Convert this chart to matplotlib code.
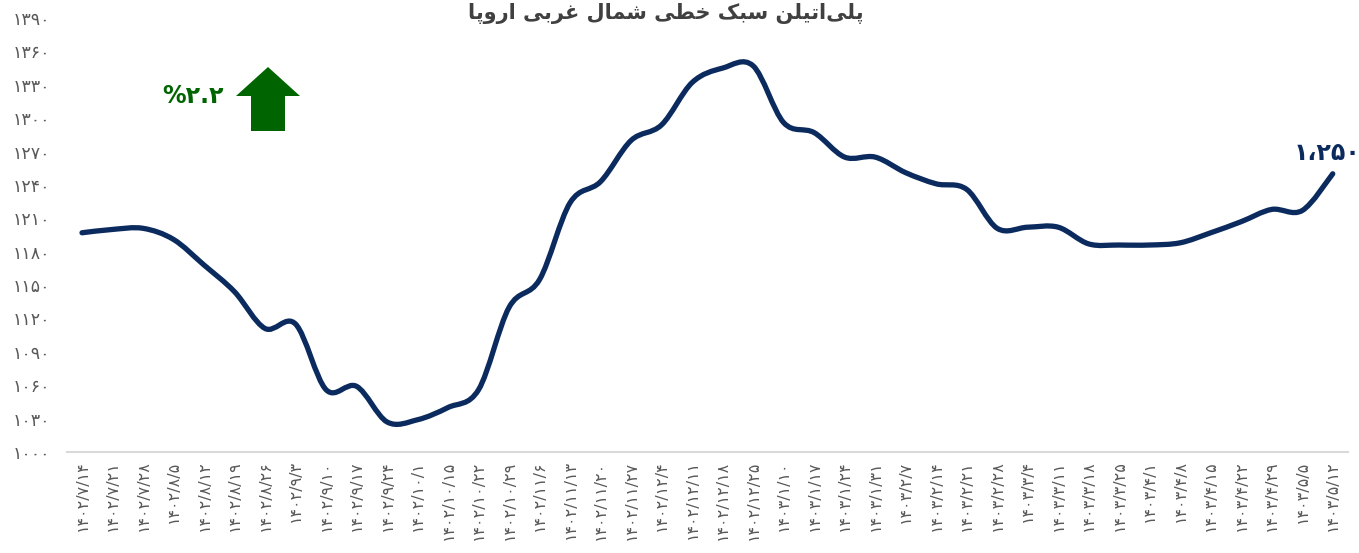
import matplotlib
matplotlib.use("Agg")
import matplotlib.pyplot as plt
from matplotlib.path import Path
from matplotlib.patches import PathPatch, FancyArrow
import numpy as np

# ---------------- data ----------------
dates = [
    "1402/7/14", "1402/7/21", "1402/7/28", "1402/8/5", "1402/8/12", "1402/8/19",
    "1402/8/26", "1402/9/3", "1402/9/10", "1402/9/17", "1402/9/24", "1402/10/1",
    "1402/10/15", "1402/10/22", "1402/10/29", "1402/11/6", "1402/11/13", "1402/11/20",
    "1402/11/27", "1402/12/4", "1402/12/11", "1402/12/18", "1402/12/25", "1403/1/10",
    "1403/1/17", "1403/1/24", "1403/1/31", "1403/2/7", "1403/2/14", "1403/2/21",
    "1403/2/28", "1403/3/4", "1403/3/11", "1403/3/18", "1403/3/25", "1403/4/1",
    "1403/4/8", "1403/4/15", "1403/4/22", "1403/4/29", "1403/5/5", "1403/5/12",
]
prices = [
    1197, 1200, 1201, 1191, 1168, 1144,
    1111, 1115, 1056, 1059, 1027, 1029,
    1040, 1056, 1130, 1155, 1224, 1243,
    1280, 1294, 1332, 1345, 1347, 1296,
    1287, 1265, 1265, 1251, 1241, 1236,
    1201, 1202, 1202, 1187, 1186, 1186,
    1188, 1197, 1207, 1218, 1217, 1250,
]
y_ticks = list(range(1000, 1391, 30))
title_text = "پلی\u200cاتیلن سبک خطی شمال غربی اروپا"
change_text = "%2.2"
last_label = "1,250"

# ---------------- helpers ----------------
FA_DIGITS = str.maketrans("0123456789,", "۰۱۲۳۴۵۶۷۸۹،")

def fa(s):
    return s.translate(FA_DIGITS)

# presentation forms: iso, fin, ini, med
FORMS = {
    "ا": ("\uFE8D", "\uFE8E", None, None),
    "ب": ("\uFE8F", "\uFE90", "\uFE91", "\uFE92"),
    "پ": ("\uFB56", "\uFB57", "\uFB58", "\uFB59"),
    "ت": ("\uFE95", "\uFE96", "\uFE97", "\uFE98"),
    "خ": ("\uFEA5", "\uFEA6", "\uFEA7", "\uFEA8"),
    "ر": ("\uFEAD", "\uFEAE", None, None),
    "س": ("\uFEB1", "\uFEB2", "\uFEB3", "\uFEB4"),
    "ش": ("\uFEB5", "\uFEB6", "\uFEB7", "\uFEB8"),
    "ط": ("\uFEC1", "\uFEC2", "\uFEC3", "\uFEC4"),
    "غ": ("\uFECD", "\uFECE", "\uFECF", "\uFED0"),
    "ک": ("\uFB8E", "\uFB8F", "\uFB90", "\uFB91"),
    "ل": ("\uFEDD", "\uFEDE", "\uFEDF", "\uFEE0"),
    "م": ("\uFEE1", "\uFEE2", "\uFEE3", "\uFEE4"),
    "ن": ("\uFEE5", "\uFEE6", "\uFEE7", "\uFEE8"),
    "و": ("\uFEED", "\uFEEE", None, None),
    "ی": ("\uFBFC", "\uFBFD", "\uFBFE", "\uFBFF"),
}

def dual(c):
    return c in FORMS and FORMS[c][2] is not None

def shape(text):
    out = []
    n = len(text)
    for i, c in enumerate(text):
        if c not in FORMS:
            if c != "\u200c":
                out.append(c)
            continue
        prev = text[i - 1] if i > 0 else ""
        nxt = text[i + 1] if i + 1 < n else ""
        jp = dual(prev)
        jn = dual(c) and (nxt in FORMS)
        iso, fin, ini, med = FORMS[c]
        if jp and jn:
            out.append(med)
        elif jp:
            out.append(fin)
        elif jn:
            out.append(ini)
        else:
            out.append(iso)
    return "".join(out)[::-1]

# ---------------- figure ----------------
W, H = 1359, 553
fig = plt.figure(figsize=(W / 100, H / 100), dpi=100)
left_px, right_px, top_px, bot_px = 66.75, 1348, 18, 452
ax = fig.add_axes([left_px / W, 1 - bot_px / H, (right_px - left_px) / W, (bot_px - top_px) / H])

x = np.arange(len(prices))
y = np.array(prices, dtype=float)

# smooth line via Catmull-Rom -> cubic Bezier segments
verts = [(x[0], y[0])]
codes = [Path.MOVETO]
for i in range(len(x) - 1):
    p0 = np.array([x[i - 1], y[i - 1]]) if i > 0 else np.array([x[i], y[i]])
    p1 = np.array([x[i], y[i]])
    p2 = np.array([x[i + 1], y[i + 1]])
    p3 = np.array([x[i + 2], y[i + 2]]) if i + 2 < len(x) else p2
    c1 = p1 + (p2 - p0) / 6.0
    c2 = p2 - (p3 - p1) / 6.0
    verts += [tuple(c1), tuple(c2), tuple(p2)]
    codes += [Path.CURVE4] * 3
line_color = "#0B2A5E"
ax.add_patch(PathPatch(Path(verts, codes), facecolor="none", edgecolor=line_color,
                       lw=3.8, capstyle="round", joinstyle="round"))

ax.set_xlim(-0.5, len(prices) - 0.5)
ax.set_ylim(1000, 1390)
ax.set_yticks(y_ticks)
ax.set_yticklabels([fa(str(v)) for v in y_ticks], fontsize=12.5, color="#595959")
ax.set_xticks(x)
ax.set_xticklabels([fa(d) for d in dates], rotation=90, fontsize=11.5, color="#595959",
                   va="top", ha="center")
ax.tick_params(axis="both", length=0)
ax.tick_params(axis="y", pad=12)
ax.tick_params(axis="x", pad=6)
for s in ["top", "right", "left"]:
    ax.spines[s].set_visible(False)
ax.spines["bottom"].set_color("#D9D9D9")
ax.spines["bottom"].set_linewidth(1.5)

# title
fig.text(0.5 * (472 + 860) / W, 1 - 13 / H, shape(title_text), ha="center", va="center",
         fontsize=15, fontweight="bold", color="#404040")

# change annotation with arrow
fig.text(193 / W, 1 - 96 / H, fa(change_text), ha="center", va="center",
         fontsize=17, fontweight="bold", color="#006400")
arrow_ax = fig.add_axes([0, 0, 1, 1], facecolor="none")
arrow_ax.set_xlim(0, W)
arrow_ax.set_ylim(H, 0)
arrow_ax.axis("off")
arrow_ax.add_patch(FancyArrow(268, 131, 0, -64, width=34, head_width=64, head_length=29,
                              length_includes_head=True, color="#006400", lw=0))

# last value label
ax.annotate(fa(last_label), xy=(x[-1], y[-1]), xytext=(-4, 6), textcoords="offset points",
            ha="center", va="bottom", fontsize=17, fontweight="bold", color=line_color,
            annotation_clip=False)

fig.savefig("out.png", dpi=100, facecolor="white")
